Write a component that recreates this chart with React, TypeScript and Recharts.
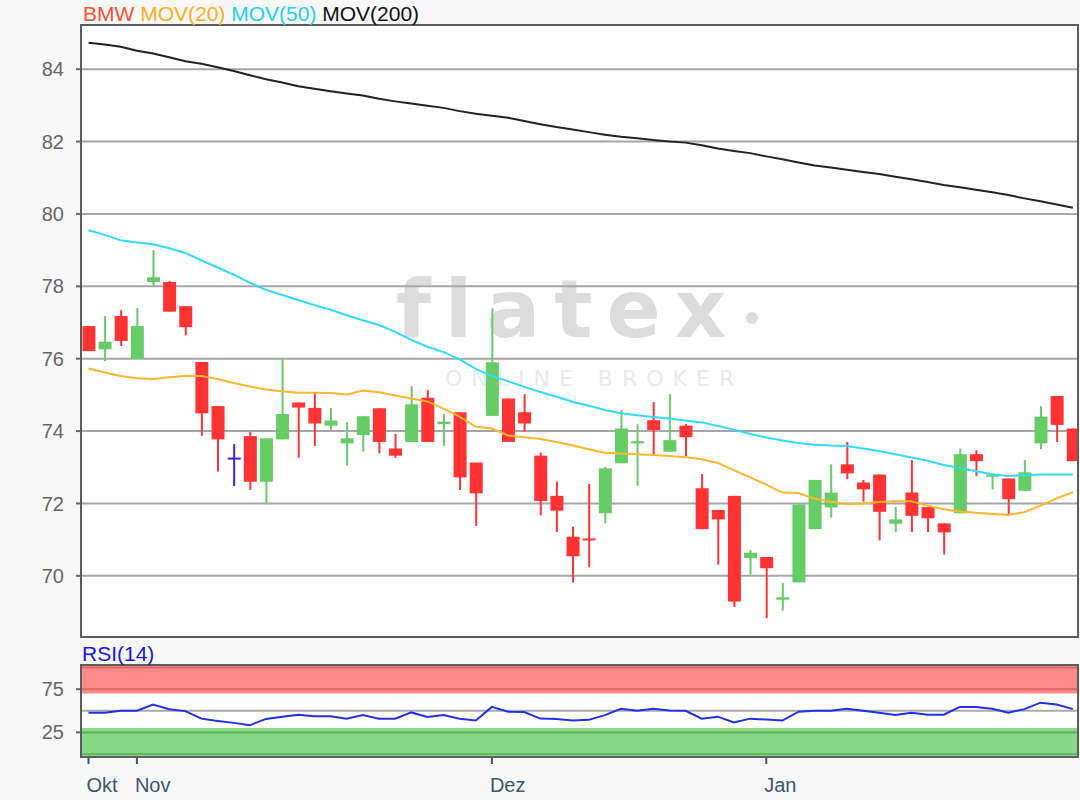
import { ComposedChart, Bar, Line, XAxis, YAxis, CartesianGrid, ReferenceArea, ReferenceLine } from "recharts";

// BMW daily candles, Okt – Jan
const opens = [76.90, 76.26, 77.18, 76.00, 78.12, 78.12, 77.45, 75.91, 74.69, 73.24, 73.86, 72.60, 73.77, 74.79, 74.64, 74.15, 73.66, 73.89, 74.63, 73.52, 73.70, 74.92, 74.19, 74.52, 73.13, 74.42, 74.90, 74.52, 73.32, 72.21, 71.08, 71.03, 71.73, 73.11, 73.66, 74.30, 73.43, 74.15, 72.42, 71.82, 72.21, 70.49, 70.52, 69.34, 69.82, 71.29, 71.89, 73.08, 72.58, 72.80, 71.44, 72.30, 71.90, 71.45, 71.73, 73.36, 72.75, 72.69, 72.35, 73.66, 74.97, 74.07];
const highs = [76.90, 77.18, 77.34, 77.40, 79.00, 78.15, 77.45, 75.91, 74.69, 73.64, 73.98, 73.80, 76.01, 74.79, 75.04, 74.64, 74.25, 74.41, 74.63, 73.92, 75.24, 75.13, 74.47, 74.52, 73.13, 77.39, 74.90, 75.02, 73.41, 72.60, 71.36, 72.54, 73.01, 74.58, 74.19, 74.80, 75.02, 74.19, 72.81, 71.82, 72.21, 70.71, 70.52, 69.80, 71.97, 72.65, 73.08, 73.70, 72.65, 72.80, 71.90, 73.20, 71.90, 71.45, 73.52, 73.47, 72.81, 72.69, 73.20, 74.69, 74.97, 74.07];
const lows = [76.21, 75.93, 76.35, 76.00, 78.00, 77.30, 76.65, 73.87, 72.88, 72.48, 72.37, 71.98, 73.77, 73.26, 73.59, 74.03, 73.04, 73.43, 73.38, 73.26, 73.70, 73.70, 73.59, 72.37, 71.38, 74.42, 73.70, 73.98, 71.67, 71.21, 69.82, 70.24, 71.45, 73.11, 72.49, 73.36, 73.43, 73.31, 71.29, 70.31, 69.14, 70.03, 68.83, 69.04, 69.82, 71.29, 71.61, 72.67, 72.05, 70.98, 71.21, 71.21, 71.21, 70.59, 71.73, 72.76, 72.39, 71.71, 72.35, 73.50, 73.70, 73.17];
const closes = [76.21, 76.47, 76.49, 76.90, 78.25, 77.30, 76.87, 74.49, 73.77, 73.24, 72.60, 73.80, 74.47, 74.65, 74.21, 74.29, 73.80, 74.41, 73.70, 73.32, 74.74, 73.70, 74.26, 72.72, 72.28, 75.90, 73.70, 74.21, 72.07, 71.80, 70.54, 70.98, 72.97, 74.07, 73.72, 74.03, 73.75, 73.83, 71.29, 71.56, 69.29, 70.64, 70.21, 69.41, 71.97, 72.65, 72.30, 72.83, 72.39, 71.77, 71.56, 71.66, 71.59, 71.20, 73.36, 73.17, 72.78, 72.12, 72.86, 74.40, 74.17, 73.17];

const mov20 = [75.73, 75.62, 75.52, 75.46, 75.44, 75.49, 75.52, 75.52, 75.44, 75.33, 75.23, 75.15, 75.10, 75.06, 75.06, 75.05, 75.01, 75.12, 75.07, 74.98, 74.90, 74.82, 74.62, 74.40, 74.12, 74.07, 73.88, 73.83, 73.78, 73.70, 73.60, 73.50, 73.40, 73.38, 73.36, 73.34, 73.31, 73.28, 73.22, 73.12, 72.92, 72.72, 72.52, 72.30, 72.29, 72.13, 72.05, 71.98, 72.00, 72.04, 72.06, 72.06, 71.94, 71.84, 71.78, 71.74, 71.71, 71.68, 71.76, 71.94, 72.14, 72.31];
const mov50 = [79.55, 79.42, 79.27, 79.21, 79.16, 79.05, 78.92, 78.72, 78.52, 78.32, 78.10, 77.90, 77.76, 77.62, 77.48, 77.35, 77.20, 77.06, 76.93, 76.74, 76.52, 76.33, 76.18, 75.98, 75.72, 75.52, 75.38, 75.22, 75.08, 74.95, 74.81, 74.70, 74.58, 74.49, 74.44, 74.39, 74.35, 74.29, 74.24, 74.14, 74.04, 73.92, 73.82, 73.74, 73.67, 73.62, 73.60, 73.59, 73.52, 73.45, 73.36, 73.27, 73.18, 73.06, 72.98, 72.89, 72.81, 72.76, 72.78, 72.80, 72.80, 72.80];
const mov200 = [84.73, 84.68, 84.62, 84.51, 84.43, 84.33, 84.22, 84.15, 84.05, 83.95, 83.83, 83.72, 83.63, 83.53, 83.46, 83.39, 83.33, 83.27, 83.18, 83.11, 83.05, 82.99, 82.93, 82.84, 82.77, 82.71, 82.66, 82.57, 82.48, 82.40, 82.33, 82.26, 82.19, 82.13, 82.09, 82.04, 82.00, 81.97, 81.90, 81.81, 81.74, 81.68, 81.59, 81.51, 81.42, 81.34, 81.28, 81.22, 81.16, 81.10, 81.03, 80.96, 80.88, 80.80, 80.74, 80.67, 80.60, 80.52, 80.43, 80.35, 80.26, 80.17];
const rsi14 = [47.7, 47.7, 50.0, 50.0, 57.2, 51.9, 49.6, 40.9, 38.3, 36.0, 33.4, 40.6, 43.2, 45.5, 43.6, 43.6, 40.9, 45.1, 40.9, 40.9, 48.1, 42.8, 45.1, 40.9, 38.7, 54.5, 48.9, 48.5, 41.0, 40.5, 38.7, 39.5, 45.0, 52.3, 50.0, 52.3, 50.4, 50.0, 40.9, 43.2, 36.4, 40.9, 39.8, 38.7, 48.9, 50.0, 50.0, 52.3, 50.0, 47.7, 45.1, 47.7, 45.5, 45.5, 54.5, 54.5, 52.3, 47.7, 51.9, 59.4, 57.2, 51.9];

const monthLabels = ["Okt", "Nov", "Dez", "Jan"];
const monthStarts = [0, 3, 25, 42];
const priceTicks = [70, 72, 74, 76, 78, 80, 82, 84];
const rsiTicks = [25, 75];

const data = opens.map((o, i) => ({
  i,
  open: o,
  high: highs[i],
  low: lows[i],
  close: closes[i],
  range: [lows[i], highs[i]],
  ma20: mov20[i],
  ma50: mov50[i],
  ma200: mov200[i],
  rsi: rsi14[i],
}));

const RED = "#ff3333";
const GREEN = "#66cc66";
const DOJI = "#4b1cd0";
const X_DOMAIN: [number, number] = [-0.465, 61.32];
const FONT = "'Liberation Sans', Arial, sans-serif";

const Candle = (props: any) => {
  const { x, y, width, height, payload } = props;
  if (x == null || payload == null) return null;
  const top = Math.min(y, y + height);
  const h = Math.abs(height);
  const k = h / (payload.high - payload.low || 1);
  const cx = x + width / 2;
  const yo = top + (payload.high - payload.open) * k;
  const yc = top + (payload.high - payload.close) * k;
  const color = payload.close > payload.open ? GREEN : payload.close < payload.open ? RED : DOJI;
  let bTop = Math.min(yo, yc);
  let bH = Math.abs(yo - yc);
  if (bH < 2) {
    bTop = (yo + yc) / 2 - 1;
    bH = 2;
  }
  return (
    <g>
      <line x1={cx} x2={cx} y1={top} y2={top + h} stroke={color} strokeWidth={2} />
      <rect x={x} y={bTop} width={width} height={bH} fill={color} />
    </g>
  );
};

const MonthTick = (props: any) => {
  const { x, y, payload } = props;
  const idx = monthStarts.indexOf(payload.value);
  return (
    <text x={x - 2} y={y} dy={26} fill="#3b5670" fontSize={20} textAnchor="start" fontFamily={FONT}>
      {monthLabels[idx]}
    </text>
  );
};

const abs = (left: number, top: number, width: number, height: number) => ({
  position: "absolute" as const,
  left,
  top,
  width,
  height,
});

export default function App() {
  return (
    <div style={{ ...abs(0, 0, 1080, 800), background: "#f8f8f8", fontFamily: FONT, overflow: "hidden" }}>
      <div style={{ ...abs(81, 25, 997, 612), background: "#fff" }} />
      <div style={{ ...abs(81, 665, 997, 92), background: "#fff" }} />

      {/* watermark */}
      <div style={{ position: "absolute", left: 396, top: 262, fontFamily: "'DejaVu Sans', sans-serif", fontWeight: "bold", fontSize: 80, letterSpacing: 14, color: "#dcdcdc", lineHeight: "96px", whiteSpace: "nowrap" }}>
        flatex
      </div>
      <div style={{ ...abs(746, 312, 12, 12), borderRadius: 6, background: "#dcdcdc" }} />
      <div style={{ position: "absolute", left: 445, top: 366, fontFamily: "'DejaVu Sans', sans-serif", fontSize: 22, letterSpacing: 9, color: "#eaeaea", lineHeight: "26px", whiteSpace: "nowrap" }}>
        ONLINE BROKER
      </div>

      <div style={abs(0, 0, 1080, 640)}>
        <ComposedChart width={1080} height={640} data={data} margin={{ top: 25, right: 2, bottom: 3, left: 0 }}>
          <CartesianGrid vertical={false} stroke="#a6a6a6" strokeWidth={2} />
          <XAxis type="number" dataKey="i" domain={X_DOMAIN} allowDataOverflow hide height={0} />
          <YAxis
            type="number"
            domain={[68.31, 85.22]}
            allowDataOverflow
            ticks={priceTicks}
            width={81}
            axisLine={false}
            tickLine={{ stroke: "#666", strokeWidth: 2 }}
            tickSize={5}
            tickMargin={12}
            tick={{ fill: "#666", fontSize: 20 }}
          />
          <Bar dataKey="range" barSize={13} shape={<Candle />} isAnimationActive={false} />
          <Line type="linear" dataKey="ma200" stroke="#222" strokeWidth={2} dot={false} isAnimationActive={false} />
          <Line type="linear" dataKey="ma50" stroke="#33daff" strokeWidth={2} dot={false} isAnimationActive={false} />
          <Line type="linear" dataKey="ma20" stroke="#ffb52e" strokeWidth={2} dot={false} isAnimationActive={false} />
        </ComposedChart>
      </div>

      <div style={abs(0, 645, 1080, 155)}>
        <ComposedChart width={1080} height={155} data={data} margin={{ top: 20, right: 2, bottom: 0, left: 0 }}>
          <XAxis
            type="number"
            dataKey="i"
            domain={X_DOMAIN}
            allowDataOverflow
            ticks={monthStarts}
            height={43}
            axisLine={false}
            tickLine={{ stroke: "#3b5670", strokeWidth: 2 }}
            tickSize={7}
            tickMargin={2}
            tick={<MonthTick />}
            interval={0}
          />
          <YAxis
            type="number"
            domain={[-3.5, 103]}
            allowDataOverflow
            ticks={rsiTicks}
            width={81}
            axisLine={false}
            tickLine={{ stroke: "#666", strokeWidth: 2 }}
            tickSize={5}
            tickMargin={12}
            tick={{ fill: "#666", fontSize: 20 }}
          />
          <ReferenceArea y1={70} y2={103} fill="#ff8a8a" fillOpacity={1} stroke="none" ifOverflow="hidden" />
          <ReferenceArea y1={-3.5} y2={30} fill="#88d888" fillOpacity={1} stroke="none" ifOverflow="hidden" />
          <ReferenceLine y={100} stroke="#e06666" strokeWidth={2} />
          <ReferenceLine y={75} stroke="#e06666" strokeWidth={2} />
          <ReferenceLine y={50} stroke="#aaaaaa" strokeWidth={2} />
          <ReferenceLine y={25} stroke="#5fb45f" strokeWidth={2} />
          <ReferenceLine y={0} stroke="#5fb45f" strokeWidth={2} />
          <Line type="linear" dataKey="rsi" stroke="#2030e8" strokeWidth={2} dot={false} isAnimationActive={false} />
        </ComposedChart>
      </div>

      {/* panel borders */}
      <div style={{ ...abs(80, 24, 999, 614), border: "2px solid #5c5c5c", boxSizing: "border-box", pointerEvents: "none" }} />
      <div style={{ ...abs(80, 664, 999, 94), border: "2px solid #5c5c5c", boxSizing: "border-box", pointerEvents: "none" }} />

      {/* legends */}
      <div style={{ position: "absolute", left: 83, top: 2, fontSize: 21, lineHeight: "24px", whiteSpace: "nowrap" }}>
        <span style={{ color: "#ff5030" }}>BMW</span>{" "}
        <span style={{ color: "#ffac1c" }}>MOV(20)</span>{" "}
        <span style={{ color: "#1ed0f2" }}>MOV(50)</span>{" "}
        <span style={{ color: "#111" }}>MOV(200)</span>
      </div>
      <div style={{ position: "absolute", left: 82, top: 642, fontSize: 21, lineHeight: "24px", color: "#1515f0", whiteSpace: "nowrap" }}>
        RSI(14)
      </div>
    </div>
  );
}
